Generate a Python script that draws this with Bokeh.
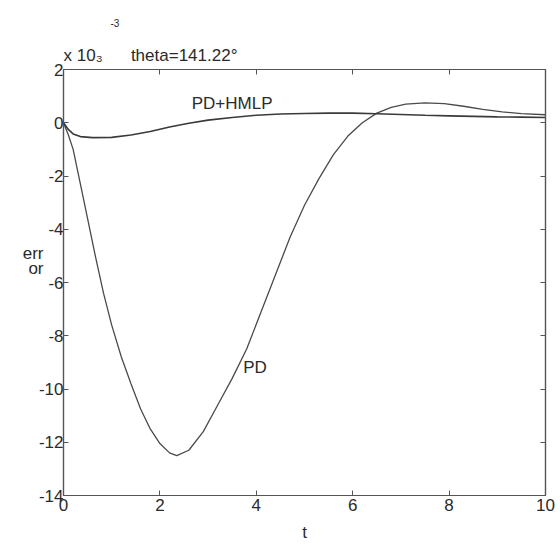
from bokeh.plotting import figure
from bokeh.models import Range1d, LinearAxis, FixedTicker, Label, Title
from bokeh.embed import file_html
from bokeh.resources import INLINE

# PD response (error x 1e-3)
t_pd = [0, 0.1, 0.2, 0.35, 0.5, 0.66, 0.83, 1.0, 1.2, 1.4, 1.6, 1.8, 2.0, 2.2, 2.35,
        2.6, 2.9, 3.2, 3.5, 3.8, 4.1, 4.4, 4.7, 5.0, 5.3, 5.6, 5.9, 6.2, 6.5, 6.8,
        7.1, 7.5, 7.9, 8.3, 8.7, 9.1, 9.5, 10.0]
e_pd = [0, -0.45, -1.0, -2.3, -3.6, -5.0, -6.4, -7.6, -8.8, -9.8, -10.75, -11.5, -12.05,
        -12.4, -12.5, -12.3, -11.6, -10.6, -9.6, -8.5, -7.1, -5.7, -4.3, -3.1, -2.1,
        -1.2, -0.5, 0.0, 0.36, 0.58, 0.7, 0.75, 0.72, 0.62, 0.5, 0.41, 0.34, 0.3]

# PD+HMLP response
t_hm = [0, 0.1, 0.2, 0.35, 0.6, 1.0, 1.4, 1.8, 2.2, 2.6, 3.0, 3.5, 4.0, 4.5, 5.0, 5.5,
        6.0, 6.5, 7.0, 7.5, 8.0, 8.5, 9.0, 9.5, 10.0]
e_hm = [0, -0.25, -0.42, -0.52, -0.56, -0.55, -0.46, -0.33, -0.16, -0.02, 0.1, 0.2,
        0.28, 0.33, 0.35, 0.36, 0.36, 0.34, 0.31, 0.28, 0.26, 0.24, 0.22, 0.21, 0.2]

x_ticks = [0, 2, 4, 6, 8, 10]
y_ticks = [-14, -12, -10, -8, -6, -4, -2, 0, 2]
y_tick_labels = ["-14", "-12", "-10", "-8", "-6", "-4", "-2", "0", "2"]

FONT = "Liberation Sans"
TXT = "#2a2a2a"
AX = "#555555"
W, H = 560, 544
NB = "\u00a0"

p = figure(width=W, height=H, output_backend="svg", toolbar_location=None, title=None,
           x_range=Range1d(0, 10), y_range=Range1d(-14, 2),
           min_border_left=63, min_border_right=15, min_border_top=69,
           min_border_bottom=47)
p.grid.visible = False
p.outline_line_color = AX
p.outline_line_width = 1.2
p.background_fill_color = "white"
p.border_fill_color = "white"

def style(ax, ticks, show_labels=True):
    ax.ticker = FixedTicker(ticks=ticks)
    ax.major_tick_in = 5
    ax.major_tick_out = 0
    ax.minor_tick_line_color = None
    ax.axis_line_color = AX
    ax.axis_line_width = 1.2
    ax.major_tick_line_color = AX
    ax.major_label_text_font = FONT
    ax.major_label_text_color = TXT
    ax.major_label_text_font_size = "17px" if show_labels else "0px"
    ax.axis_label_text_font = FONT
    ax.axis_label_text_font_style = "normal"
    ax.axis_label_text_color = TXT
    ax.axis_label_text_font_size = "17px"

xa = p.xaxis[0]
ya = p.yaxis[0]
style(xa, x_ticks)
style(ya, y_ticks)
ya.major_label_overrides = {v: s for v, s in zip(y_ticks, y_tick_labels)}
xa.major_label_standoff = 3
ya.major_label_standoff = 0
xa.axis_label = "t"
xa.axis_label_standoff = 9

# extra, tick-less left axis that only carries the wrapped "err / or" label
# (blank trailing lines lift the two visible lines above the frame centre)
lab_axis = LinearAxis(ticker=FixedTicker(ticks=[]))
lab_axis.axis_line_color = None
lab_axis.major_tick_line_color = None
lab_axis.minor_tick_line_color = None
lab_axis.major_label_text_font_size = "0px"
lab_axis.axis_label = "err\nor\n" + NB + "\n" + NB + "\n" + NB
lab_axis.axis_label_orientation = "horizontal"
lab_axis.axis_label_standoff = -8
lab_axis.axis_label_text_font = FONT
lab_axis.axis_label_text_font_style = "normal"
lab_axis.axis_label_text_color = TXT
lab_axis.axis_label_text_font_size = "17px"
lab_axis.axis_label_text_line_height = 0.76
p.add_layout(lab_axis, "left")

top = LinearAxis()
style(top, x_ticks, False)
top.major_label_standoff = 0
p.add_layout(top, "above")
right = LinearAxis()
style(right, y_ticks, False)
right.major_label_standoff = 0
p.add_layout(right, "right")

# texts above the frame (MATLAB exponent and title)
t1 = Title(text="x 10\u2083" + NB * 6 + "theta=141.22°", align="left", offset=0,
           text_font=FONT, text_font_size="17px", text_font_style="normal",
           text_color=TXT, standoff=10)
p.add_layout(t1, "above")
t2 = Title(text="-3", align="left", offset=47, text_font=FONT, text_font_size="10px",
           text_font_style="normal", text_color=TXT, standoff=24)
p.add_layout(t2, "above")

p.line(t_pd, e_pd, line_color="#4a4a4a", line_width=1.3)
p.line(t_hm, e_hm, line_color="#3a3a3a", line_width=1.6)

def lab(x, y, s, size="17px"):
    p.add_layout(Label(x=x, y=y, text=s, text_font=FONT, text_font_size=size,
                       text_color=TXT, text_align="left", text_baseline="alphabetic"))

lab(2.66, 0.73, "PD+HMLP")
lab(3.73, -9.18, "PD")

open("out.html", "w").write(file_html(p, INLINE))
